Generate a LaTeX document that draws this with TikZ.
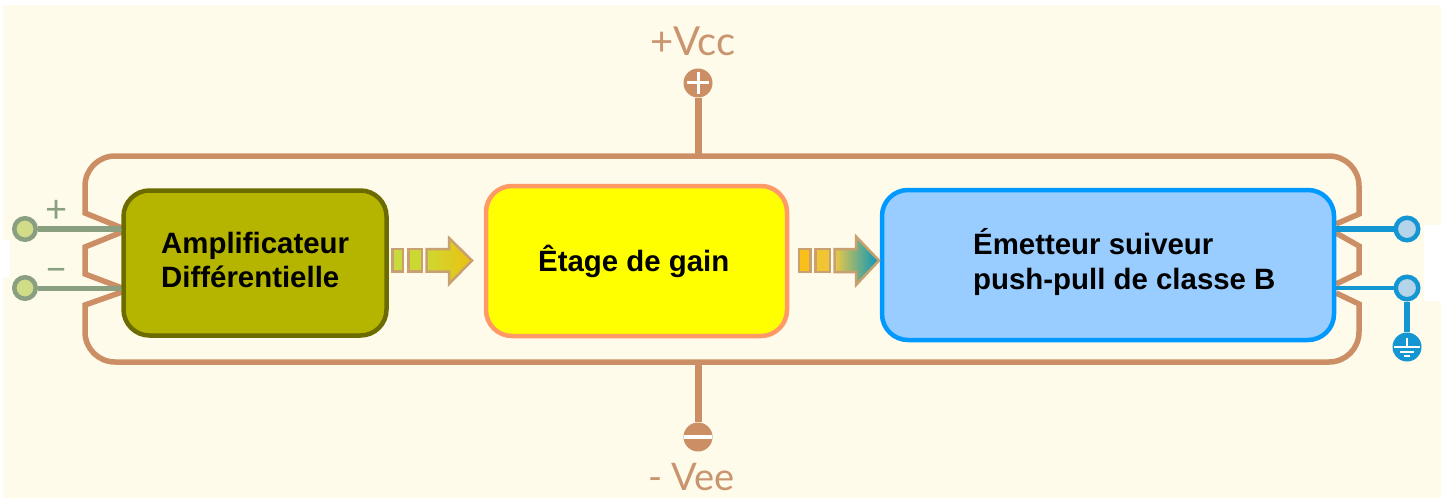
\documentclass[tikz,border=0pt]{standalone}
\usepackage{fontspec}
\setmainfont{Liberation Sans}
\newfontfamily\railfont{Lato}
\usepackage{xcolor}
\usetikzlibrary{calc, positioning}
\definecolor{cream}{HTML}{FEFBEB}
\definecolor{rail}{HTML}{CC8E64}
\definecolor{railtext}{HTML}{C9946E}
\definecolor{sage}{HTML}{8A9E80}
\definecolor{sagefill}{HTML}{D0DC88}
\definecolor{wire}{HTML}{1496D2}
\definecolor{wirefill}{HTML}{B4D4EA}
\definecolor{arrowedge}{HTML}{C9A070}
\definecolor{amplidraw}{HTML}{6B6B00}
\definecolor{amplifill}{HTML}{B5B500}
\definecolor{gaindraw}{HTML}{FF9966}
\definecolor{gainfill}{HTML}{FFFF00}
\definecolor{emetdraw}{HTML}{0099FF}
\definecolor{emetfill}{HTML}{99CCFF}
\tikzset{
    auto, semithick,
    block/.style ={rectangle, draw, line width=4.5pt, rounded corners=26pt, inner sep=0pt},
    blocktext/.style ={anchor=west, inner sep=0pt, align=left, font=\bfseries\fontsize{29.4}{34.5}\selectfont},
    inpin/.style ={circle, draw=sage, fill=sagefill, line width=4.5pt, minimum size=21.5pt, inner sep=0pt},
    outpin/.style ={circle, draw=wire, fill=wirefill, line width=4.5pt, minimum size=22.5pt, inner sep=0pt},
    supply/.style ={circle, fill=rail, minimum size=29pt, inner sep=0pt},
    groundpin/.style ={circle, fill=wire, minimum size=29pt, inner sep=0pt},
    railname/.style ={text=railtext, inner sep=0pt, font=\railfont\fontsize{40}{40}\selectfont},
    signname/.style ={text=sage, inner sep=0pt, font=\railfont\fontsize{38}{38}\selectfont},
    railwire/.style ={draw=rail, line width=5.5pt},
    stem/.style ={draw=rail, line width=7pt},
    inwire/.style ={draw=sage, line width=6pt},
    outwire/.style ={draw=wire, line width=5.5pt},
    flow/.style ={draw=arrowedge, line width=2.5pt, line join=miter}
    }

\begin{document}
\begin{tikzpicture}[x=1pt,y=-1pt]
    \useasboundingbox (0,0) rectangle (1445,500);
    \fill[white] (0,0) rectangle (1445,500);
    \fill[cream] (3,5) rectangle (1441,498);
    \fill[white] (0,240) rectangle (10,277);
    \fill[white] (1424,225) rectangle (1445,301);

    % power rail
    \draw[railwire] (122,228) -- (85,213) -- (85,195) [rounded corners=30pt] -- (85,156) -- (1359,156) -- (1359,195);
    \draw[railwire] (1359,195) -- (1359,214) -- (1336,224);
    \draw[railwire] (122,232) -- (85,247) -- (85,274) -- (122,288);
    \draw[railwire] (1336,233) -- (1359,246) -- (1359,273) -- (1336,284);
    \draw[railwire] (122,292) -- (85,305) -- (85,323) [rounded corners=30pt] -- (85,362) -- (1359,362) -- (1359,323);
    \draw[railwire] (1359,323) -- (1359,304) -- (1336,293);

    \node (ampli) at (255,263) [block, draw=amplidraw, fill=amplifill,
        minimum width=263pt, minimum height=145pt] {};
    \node (gain) at (636.5,261) [block, draw=gaindraw, fill=gainfill,
        minimum width=301pt, minimum height=150pt] {};
    \node (emet) at (1108,265) [block, draw=emetdraw, fill=emetfill,
        minimum width=452pt, minimum height=150pt] {};
    \node (amplitext) at (161,260) [blocktext] {Amplificateur\\Différentielle};
    \node (gaintext) at (538,261) [blocktext] {Êtage de gain};
    \node (emettext) at (973,262) [blocktext] {Émetteur suiveur\\push-pull de classe B};

    % inputs and outputs
    \node (inp) at (25,229) [inpin] {};
    \node (inn) at (25,288) [inpin] {};
    \node (outp) at (1407,229) [outpin] {};
    \node (outn) at (1407,288) [outpin] {};
    \node (gnd) at (1407,347) [groundpin, path picture={
        \draw[white, line width=2pt] ($(path picture bounding box.center)+(0,-9)$) -- ++(0,9)
            ($(path picture bounding box.center)+(-13,0)$) -- ++(26,0)
            ($(path picture bounding box.center)+(-7,5)$) -- ++(14,0)
            ($(path picture bounding box.center)+(-3,9)$) -- ++(6,0);}] {};
    \node (plus) at (57,211) [signname] {+};
    \node (minus) at (57,275) [signname] {−};

    \path (inp) edge[inwire] (inp -| ampli.west);
    \path (inn) edge[inwire, line width=5pt] (inn -| ampli.west);
    \path (outp) edge[outwire] (outp -| emet.east);
    \path (outn) edge[outwire, line width=4.5pt] (outn -| emet.east);
    \path (outn) edge[outwire, line width=5.5pt] (gnd);

    % supplies
    \node (vcc) at (698,83) [supply, path picture={
        \draw[white, line width=3pt] ($(path picture bounding box.center)+(-11,0)$) -- ++(22,0)
            ($(path picture bounding box.center)+(0,-11)$) -- ++(0,22);}] {};
    \node (vee) at (698,437) [supply, path picture={
        \draw[white, line width=4pt] ($(path picture bounding box.center)+(-14,0)$) -- ++(28,0);}] {};
    \node (vccname) at (693,41) [railname] {+Vcc};
    \node (veename) at (691.5,477) [railname, font=\railfont\fontsize{38}{38}\selectfont] {- Vee};
    \coordinate (railtop) at (698,156);
    \coordinate (railbot) at (698,362);
    \path (vcc) edge[stem] (railtop);
    \path (vee) edge[stem] (railbot);

    % block arrows
    \path[flow, fill={rgb,255:red,200;green,218;blue,60}] (392.5,249) rectangle (403,271.5);
    \path[flow, fill={rgb,255:red,204;green,216;blue,50}] (408.5,249) rectangle (422,271.5);
    \path[flow, left color={rgb,255:red,206;green,216;blue,50}, right color={rgb,255:red,236;green,192;blue,16}]
        (426.5,249) -- (449,249) -- (449,238) -- (472,260.5) -- (449,284) -- (449,271.5) -- (426.5,271.5) -- cycle;
    \path[flow, fill={rgb,255:red,248;green,192;blue,24}] (799,249) rectangle (810.5,272);
    \path[flow, fill={rgb,255:red,240;green,196;blue,50}] (815.5,249) rectangle (830,272);
    \path[flow, left color={rgb,255:red,238;green,200;blue,70}, right color={rgb,255:red,0;green,150;blue,190}]
        (834.5,249) -- (856,249) -- (856,236.5) -- (879,260.5) -- (856,285) -- (856,272) -- (834.5,272) -- cycle;
\end{tikzpicture}
\end{document}
